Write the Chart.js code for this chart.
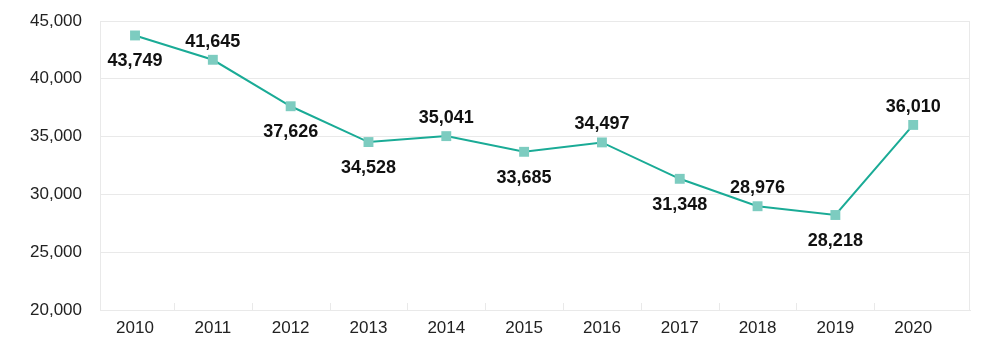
<!DOCTYPE html>
<html>
<head>
<meta charset="utf-8">
<script src="https://cdn.jsdelivr.net/npm/chart.js@4/dist/chart.umd.min.js"></script>
<style>
    html, body { margin: 0; padding: 0; background: #fff; }
    #wrap { width: 1000px; height: 346px; position: relative; }
</style>
</head>
<body>
<div id="wrap"><canvas id="trendChart"></canvas></div>
<script>
const years = ["2010", "2011", "2012", "2013", "2014", "2015", "2016", "2017", "2018", "2019", "2020"];
const counts = [43749, 41645, 37626, 34528, 35041, 33685, 34497, 31348, 28976, 28218, 36010];
const labelSide = ["below", "above", "below", "below", "above", "below", "above", "below", "above", "below", "above"];
const yTicks = [20000, 25000, 30000, 35000, 40000, 45000];

const LINE_COLOR = "#1aab96";
const MARKER_COLOR = "#7dccc0";
const GRID_COLOR = "#e9e9e9";

// value labels above / below each point
const valueLabels = {
    id: "valueLabels",
    afterDatasetsDraw(chart) {
        const { ctx } = chart;
        const meta = chart.getDatasetMeta(0);
        ctx.save();
        ctx.font = "bold 18px 'Liberation Sans', Arial, sans-serif";
        ctx.fillStyle = "#111";
        ctx.textAlign = "center";
        ctx.textBaseline = "middle";
        meta.data.forEach((pt, i) => {
            const dy = labelSide[i] === "above" ? -18 : 26;
            ctx.fillText(counts[i].toLocaleString("en-US"), pt.x, pt.y + dy);
        });
        ctx.restore();
    }
};

// plot frame and small category separators on the bottom edge
const frame = {
    id: "frame",
    beforeDatasetsDraw(chart) {
        const { ctx, chartArea: a, scales } = chart;
        ctx.save();
        ctx.strokeStyle = GRID_COLOR;
        ctx.lineWidth = 1;
        ctx.beginPath();
        ctx.moveTo(a.left + 0.5, a.top);
        ctx.lineTo(a.left + 0.5, a.bottom);
        ctx.moveTo(a.right - 0.5, a.top);
        ctx.lineTo(a.right - 0.5, a.bottom);
        for (let i = 0; i < years.length - 1; i++) {
            const x = Math.round(scales.x.getPixelForValue(i + 0.5)) + 0.5;
            ctx.moveTo(x, a.bottom - 7);
            ctx.lineTo(x, a.bottom);
        }
        ctx.stroke();
        ctx.restore();
    }
};

new Chart(document.getElementById("trendChart"), {
    type: "line",
    data: {
        datasets: [{
            data: counts.map((v, i) => ({ x: i, y: v })),
            borderColor: LINE_COLOR,
            borderWidth: 2,
            tension: 0,
            pointStyle: "rect",
            pointRadius: 7,
            pointBackgroundColor: MARKER_COLOR,
            pointBorderColor: MARKER_COLOR,
            pointBorderWidth: 0
        }]
    },
    options: {
        responsive: true,
        maintainAspectRatio: false,
        animation: false,
        layout: { autoPadding: false, padding: { top: 21, right: 30, left: 0, bottom: 0 } },
        plugins: {
            legend: { display: false },
            tooltip: { enabled: false }
        },
        scales: {
            x: {
                type: "linear",
                min: -0.45,
                max: 10.73,
                afterBuildTicks: axis => {
                    axis.ticks = years.map((_, i) => ({ value: i }));
                },
                afterFit: axis => {
                    axis.height = 36;
                    axis.paddingLeft = 0;
                    axis.paddingRight = 0;
                },
                grid: { display: false },
                border: { display: true, color: GRID_COLOR },
                ticks: {
                    color: "#222",
                    padding: 0,
                    font: { family: "'Liberation Sans', Arial, sans-serif", size: 17 },
                    callback: v => years[v]
                }
            },
            y: {
                min: 20000,
                max: 45000,
                afterBuildTicks: axis => {
                    axis.ticks = yTicks.map(v => ({ value: v }));
                },
                afterFit: axis => {
                    axis.width = 100;
                    axis.paddingTop = 0;
                    axis.paddingBottom = 0;
                },
                grid: { color: GRID_COLOR, drawTicks: false },
                border: { display: false },
                ticks: {
                    color: "#222",
                    padding: 18,
                    font: { family: "'Liberation Sans', Arial, sans-serif", size: 17 },
                    callback: v => v.toLocaleString("en-US")
                }
            }
        }
    },
    plugins: [frame, valueLabels]
});
</script>
</body>
</html>
